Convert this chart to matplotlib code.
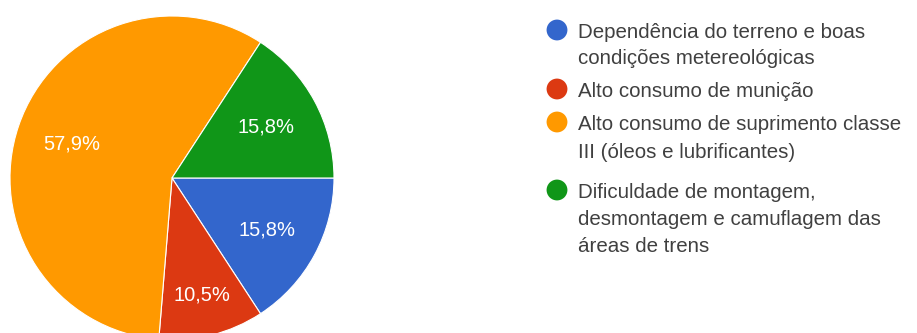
import matplotlib
matplotlib.use("Agg")
import matplotlib.pyplot as plt
import numpy as np

# Survey answers (percent of responses)
categories = [
    "Dependência do terreno e boas\ncondições metereológicas",
    "Alto consumo de munição",
    "Alto consumo de suprimento classe\nIII (óleos e lubrificantes)",
    "Dificuldade de montagem,\ndesmontagem e camuflagem das\náreas de trens",
]
percentages = [15.8, 10.5, 57.9, 15.8]
value_labels = ["15,8%", "10,5%", "57,9%", "15,8%"]
colors = ["#3366cc", "#dc3912", "#ff9900", "#109618"]

plt.rcParams["font.family"] = ["Liberation Sans", "DejaVu Sans"]

W, H = 917, 333
fig = plt.figure(figsize=(W / 100, H / 100), dpi=100)
ax = fig.add_axes([0, 0, 1, 1])

cx, cy, R = 172, H - 178, 162
wedges, _ = ax.pie(
    percentages,
    colors=colors,
    startangle=0,
    counterclock=False,
    center=(cx, cy),
    radius=R,
    frame=True,
    wedgeprops=dict(edgecolor="white", linewidth=0.8),
)
ax.set_xlim(0, W)
ax.set_ylim(0, H)
ax.set_aspect("equal")
ax.axis("off")

# Percentage labels inside the slices
label_dist = [0.67, 0.745, 0.655, 0.66]
for w, txt, d in zip(wedges, value_labels, label_dist):
    mid = np.deg2rad((w.theta1 + w.theta2) / 2)
    ax.text(cx + R * d * np.cos(mid), cy + R * d * np.sin(mid), txt,
            color="white", fontsize=14.5, ha="center", va="center")

# Legend: one dot per answer, text lines by baseline
lx_dot, lx_text = 557, 578
baselines = [[38, 64], [97], [130, 158], [198, 225, 252]]
for lines_y, lab, col in zip(baselines, categories, colors):
    ax.scatter([lx_dot], [H - (lines_y[0] - 8)], s=225, color=col,
               edgecolors="none")
    for y, line in zip(lines_y, lab.split("\n")):
        ax.text(lx_text, H - y, line, fontsize=14.8,
                color="#404040", ha="left", va="baseline")

fig.savefig("out.png", dpi=100)
